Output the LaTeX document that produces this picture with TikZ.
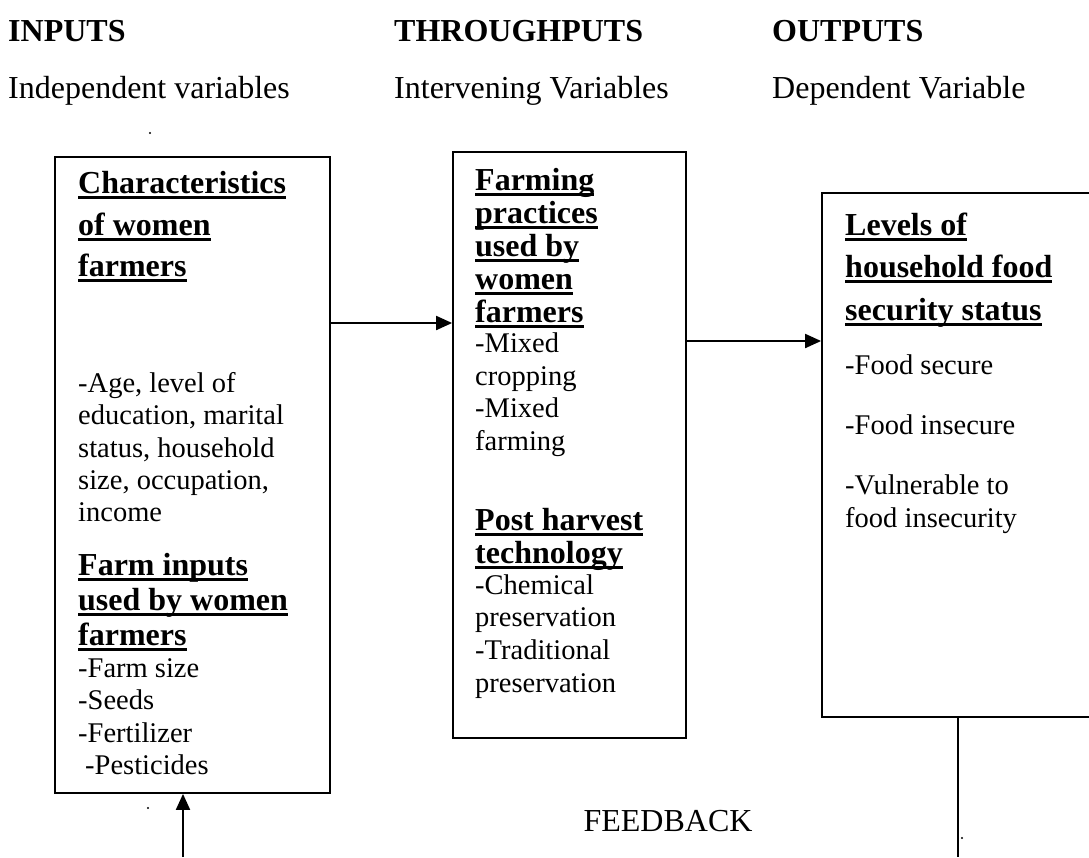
\documentclass[tikz,border=0pt]{standalone}
\usepackage{fontspec}
\setmainfont{Liberation Serif}
\usetikzlibrary{arrows.meta}
\newcommand{\hd}[1]{\setbox0\hbox{#1}\rlap{\rule[-6pt]{\wd0}{3pt}}\box0}
\begin{document}
\begin{tikzpicture}[x=1pt,y=-1pt,
  box/.style={draw, line width=1.8pt, inner sep=0pt},
  conn/.style={line width=2pt},
  arr/.style={conn, -{Triangle[length=16pt,width=14pt]}},
  hdr/.style={font=\fontsize{32}{38}\selectfont\bfseries, anchor=base west, inner sep=0pt},
  sub/.style={font=\fontsize{32}{38}\selectfont, anchor=base west, inner sep=0pt},
  hdl/.style={font=\fontsize{32}{38}\selectfont\bfseries, anchor=base west, inner sep=0pt},
  bt/.style={font=\fontsize{28.5}{33}\selectfont, anchor=base west, inner sep=0pt},
  fb/.style={font=\fontsize{32}{38}\selectfont, anchor=base, inner sep=0pt},
  speck/.style={fill=black}]
\useasboundingbox (0,0) rectangle (1089,857);
\clip (0,0) rectangle (1089,857);

% column titles
\node[hdr] (tin) at (8,41) {INPUTS};
\node[hdr] (tth) at (394,41) {THROUGHPUTS};
\node[hdr] (tout) at (772,41) {OUTPUTS};
\node[sub] (sin) at (8,98) {Independent variables};
\node[sub] (sth) at (394,98) {Intervening Variables};
\node[sub] (sout) at (772,98) {Dependent Variable};

% boxes
\node[box, minimum width=275pt, minimum height=636pt] (lb) at (192.5,475) {};
\node[box, minimum width=233pt, minimum height=586pt] (mb) at (569.5,445) {};
\node[box, minimum width=290pt, minimum height=524pt] (rb) at (967,455) {};

% left box text
\node[hdl] (l1) at (78,193) {\hd{Characteristics}};
\node[hdl] (l2) at (78,235) {\hd{of women}};
\node[hdl] (l3) at (78,276) {\hd{farmers}};
\node[bt] (l4) at (78,392) {-Age, level of};
\node[bt] (l5) at (78,424) {education, marital};
\node[bt] (l6) at (78,457) {status, household};
\node[bt] (l7) at (78,489) {size, occupation,};
\node[bt] (l8) at (78,521) {income};
\node[hdl] (l9) at (78,575) {\hd{Farm inputs}};
\node[hdl] (l10) at (78,610) {\hd{used by women}};
\node[hdl] (l11) at (78,645) {\hd{farmers}};
\node[bt] (l12) at (78,677) {-Farm size};
\node[bt] (l13) at (78,709) {-Seeds};
\node[bt] (l14) at (78,742) {-Fertilizer};
\node[bt] (l15) at (85,774) {-Pesticides};

% middle box text
\node[hdl] (m1) at (475,190) {\hd{Farming}};
\node[hdl] (m2) at (475,223) {\hd{practices}};
\node[hdl] (m3) at (475,256) {\hd{used by}};
\node[hdl] (m4) at (475,289) {\hd{women}};
\node[hdl] (m5) at (475,322) {\hd{farmers}};
\node[bt] (m6) at (475,352) {-Mixed};
\node[bt] (m7) at (475,385) {cropping};
\node[bt] (m8) at (475,417) {-Mixed};
\node[bt] (m9) at (475,450) {farming};
\node[hdl] (m10) at (475,530) {\hd{Post harvest}};
\node[hdl] (m11) at (475,563) {\hd{technology}};
\node[bt] (m12) at (475,594) {-Chemical};
\node[bt] (m13) at (475,626) {preservation};
\node[bt] (m14) at (475,659) {-Traditional};
\node[bt] (m15) at (475,692) {preservation};

% right box text
\node[hdl] (r1) at (845,235) {\hd{Levels of}};
\node[hdl] (r2) at (845,277) {\hd{household food}};
\node[hdl] (r3) at (845,320) {\hd{security status}};
\node[bt] (r4) at (845,374) {-Food secure};
\node[bt] (r5) at (845,434) {-Food insecure};
\node[bt] (r6) at (845,494) {-Vulnerable to};
\node[bt] (r7) at (845,527) {food insecurity};

% feedback
\node[fb] (fbk) at (668,831) {FEEDBACK};

% connectors
\coordinate (y1) at (0,323);
\coordinate (y2) at (0,341);
\coordinate (fbL) at (183,857);
\coordinate (fbR) at (958,857);
\draw[arr] (lb.east |- y1) -- (mb.west |- y1);
\draw[arr] (mb.east |- y2) -- (rb.west |- y2);
\draw[arr] (fbL) -- (lb.south -| fbL);
\draw[conn] (rb.south -| fbR) -- (fbR);

% specks
\fill[speck] (150,133) circle (1.1pt);
\fill[speck] (148,808) circle (1.1pt);
\fill[speck] (962,838) circle (1.1pt);
\end{tikzpicture}
\end{document}
